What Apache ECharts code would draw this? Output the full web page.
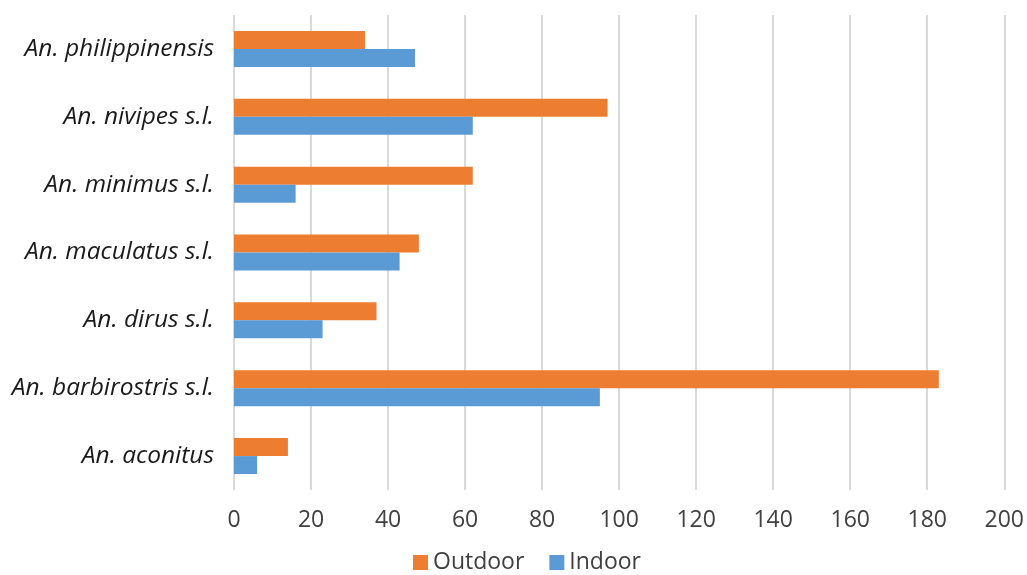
<!DOCTYPE html>
<html>
<head>
<meta charset="utf-8">
<script src="https://cdn.jsdelivr.net/npm/echarts@6/dist/echarts.min.js"></script>
<style>
  html, body { margin: 0; padding: 0; background: #fff; }
  #chart { width: 1027px; height: 575px; }
</style>
</head>
<body>
<div id="chart"></div>
<script>
// Species, listed bottom to top along the category axis
const species = [
  'An. aconitus',
  'An. barbirostris s.l.',
  'An. dirus s.l.',
  'An. maculatus s.l.',
  'An. minimus s.l.',
  'An. nivipes s.l.',
  'An. philippinensis'
];
const outdoor = [14, 183, 37, 48, 62, 97, 34];
const indoor = [6, 95, 23, 43, 16, 62, 47];
const xTicks = { min: 0, max: 200, interval: 20 };

const chart = echarts.init(document.getElementById('chart'), null, { renderer: 'canvas' });
const labelFont = 'Open Sans, Noto Sans, sans-serif';

chart.setOption({
  animation: false,
  grid: { left: 234, right: 20, top: 15, bottom: 85, containLabel: false },
  legend: {
    data: ['Outdoor', 'Indoor'],
    top: 546,
    left: 408,
    itemWidth: 15,
    itemHeight: 15,
    itemGap: 25,
    icon: 'rect',
    textStyle: { fontSize: 23, color: '#404040', fontFamily: labelFont, padding: [0, 0, 0, 0] }
  },
  xAxis: {
    type: 'value',
    min: xTicks.min,
    max: xTicks.max,
    interval: xTicks.interval,
    axisLine: { show: false },
    axisTick: { show: false },
    axisLabel: { fontSize: 23, color: '#404040', fontFamily: labelFont, margin: 19 },
    splitLine: { show: true, lineStyle: { color: '#d9d9d9', width: 2 } }
  },
  yAxis: {
    type: 'category',
    data: species,
    axisLine: { show: false },
    axisTick: { show: false },
    axisLabel: {
      fontSize: 24.5,
      fontStyle: 'italic',
      color: '#1a1a1a',
      fontFamily: labelFont,
      margin: 20
    }
  },
  series: [
    {
      name: 'Outdoor',
      type: 'bar',
      data: outdoor,
      barWidth: 18,
      barGap: '0%',
      itemStyle: { color: '#ED7D31' }
    },
    {
      name: 'Indoor',
      type: 'bar',
      data: indoor,
      barWidth: 18,
      barGap: '0%',
      itemStyle: { color: '#5B9BD5' }
    }
  ]
});
</script>
</body>
</html>
